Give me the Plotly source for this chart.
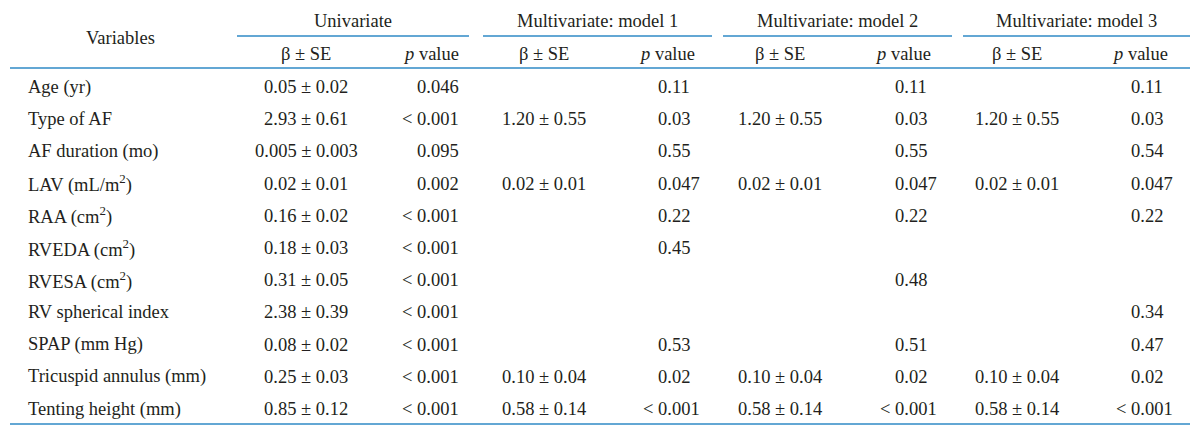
import plotly.graph_objects as go

variables = ["Age (yr)", "Type of AF", "AF duration (mo)", "LAV (mL/m<sup>2</sup>)",
             "RAA (cm<sup>2</sup>)", "RVEDA (cm<sup>2</sup>)", "RVESA (cm<sup>2</sup>)",
             "RV spherical index", "SPAP (mm Hg)", "Tricuspid annulus (mm)", "Tenting height (mm)"]
uni_beta = ["0.05 ± 0.02", "2.93 ± 0.61", "0.005 ± 0.003", "0.02 ± 0.01", "0.16 ± 0.02",
            "0.18 ± 0.03", "0.31 ± 0.05", "2.38 ± 0.39", "0.08 ± 0.02", "0.25 ± 0.03", "0.85 ± 0.12"]
uni_p = ["0.046", "< 0.001", "0.095", "0.002", "< 0.001", "< 0.001", "< 0.001",
         "< 0.001", "< 0.001", "< 0.001", "< 0.001"]
m1_beta = ["", "1.20 ± 0.55", "", "0.02 ± 0.01", "", "", "", "", "", "0.10 ± 0.04", "0.58 ± 0.14"]
m1_p = ["0.11", "0.03", "0.55", "0.047", "0.22", "0.45", "", "", "0.53", "0.02", "< 0.001"]
m2_beta = ["", "1.20 ± 0.55", "", "0.02 ± 0.01", "", "", "", "", "", "0.10 ± 0.04", "0.58 ± 0.14"]
m2_p = ["0.11", "0.03", "0.55", "0.047", "0.22", "", "0.48", "", "0.51", "0.02", "< 0.001"]
m3_beta = ["", "1.20 ± 0.55", "", "0.02 ± 0.01", "", "", "", "", "", "0.10 ± 0.04", "0.58 ± 0.14"]
m3_p = ["0.11", "0.03", "0.54", "0.047", "0.22", "", "", "0.34", "0.47", "0.02", "< 0.001"]
group_titles = ["Univariate", "Multivariate: model 1", "Multivariate: model 2", "Multivariate: model 3"]
sub_beta = "β ± SE"
sub_p = "<i>p</i> value"
first_header = "Variables"

# page has an 8px body margin; make data coordinates equal page pixels
OFF = 8
W, H = 1200, 429
FONT = "Liberation Serif"
FS = 18.5
TXT = "#231f20"
LINE = "#2f8ac6"
TOPLINE = "#77a9cc"

fig = go.Figure()
fig.update_layout(
    width=W - OFF, height=H - OFF, margin=dict(l=0, r=0, t=0, b=0),
    paper_bgcolor="white", plot_bgcolor="white", showlegend=False,
    xaxis=dict(range=[OFF, W], visible=False, fixedrange=True),
    yaxis=dict(range=[H, OFF], visible=False, fixedrange=True),
)

ann = []
def t(x, y, s, anchor="center"):
    ann.append(dict(x=x, y=y, xref="x", yref="y", text=s, showarrow=False,
                    xanchor=anchor, yanchor="middle",
                    font=dict(family=FONT, size=FS, color=TXT)))

# header
t(120, 38, first_header)
group_spans = [(237, 469), (483, 712), (723, 952), (963, 1190)]
for (a, b), g in zip(group_spans, group_titles):
    t((a + b) / 2, 21, g)
beta_x = [306, 544, 780, 1017]
p_right = [461, 697, 933, 1170]
p_left = [None, 656, 893, 1129]
for i in range(4):
    t(beta_x[i], 54, sub_beta)
    t(p_right[i], 54, sub_p, "right")

# rows
y0, dy = 87, 32.2
betas = [uni_beta, m1_beta, m2_beta, m3_beta]
ps = [uni_p, m1_p, m2_p, m3_p]
for r, v in enumerate(variables):
    y = y0 + r * dy
    t(26, y, v, "left")
    for c in range(4):
        if betas[c][r]:
            t(beta_x[c], y, betas[c][r])
        s = ps[c][r]
        if not s:
            continue
        if c == 0:
            t(p_right[c], y, s, "right")
        else:
            # decimal alignment: shift strings with a "< " prefix left
            shift = 15 if s.startswith("<") else 0
            t(p_left[c] - shift, y, s, "left")

fig.update_layout(annotations=ann)

shapes = [
    dict(type="line", x0=10, x1=1190, y0=4, y1=4, line=dict(color=TOPLINE, width=2)),
    dict(type="line", x0=10, x1=1190, y0=68, y1=68, line=dict(color=LINE, width=1.5)),
    dict(type="line", x0=10, x1=1190, y0=424, y1=424, line=dict(color=LINE, width=1.5)),
]
for a, b in group_spans:
    shapes.append(dict(type="line", x0=a, x1=b, y0=36, y1=36, line=dict(color=LINE, width=1.5)))
for s in shapes:
    s.update(xref="x", yref="y")
fig.update_layout(shapes=shapes)

fig.write_html("out.html")
